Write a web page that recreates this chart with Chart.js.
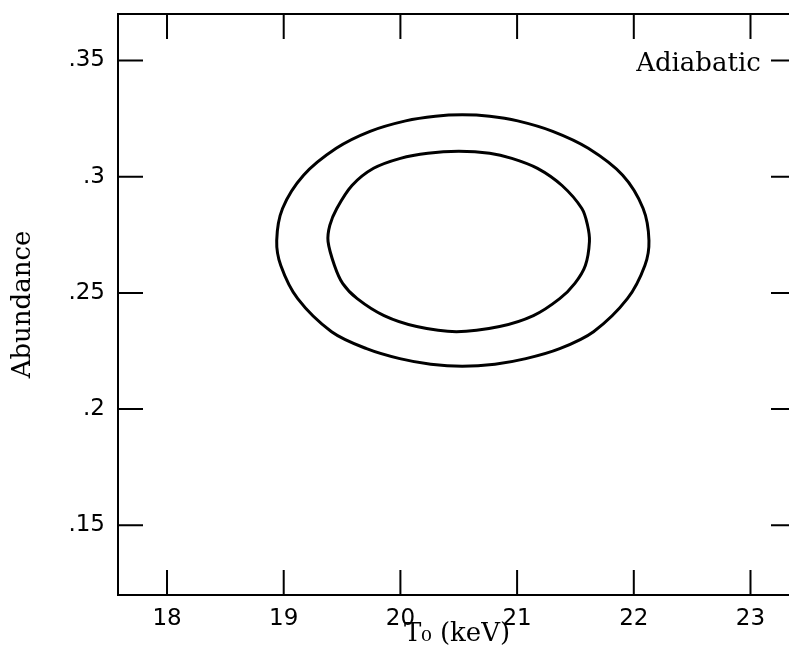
<!DOCTYPE html>
<html>
<head>
<meta charset="utf-8">
<script src="https://cdn.jsdelivr.net/npm/chart.js@4.4.0/dist/chart.umd.min.js"></script>
<style>
  html, body { margin: 0; padding: 0; background: #fff; overflow: hidden; }
  #wrap { width: 820px; height: 657px; position: relative; }
</style>
</head>
<body>
<div id="wrap"><canvas id="contour"></canvas></div>
<script>
// tick values / labels
var xTicks = [18, 19, 20, 21, 22, 23];
var yTicks = [0.15, 0.2, 0.25, 0.3, 0.35];
var yTickLabels = ['.15', '.2', '.25', '.3', '.35'];

// outer contour (T0 in keV, abundance), going round once
var outerT0 = [22.13, 22.08, 21.905, 21.61, 21.305, 21.005, 20.765, 20.53, 20.30, 20.045, 19.74, 19.45, 19.17, 18.99,
  18.94, 18.975, 19.12, 19.41, 19.71, 19.995, 20.26, 20.53, 20.81, 21.075, 21.365, 21.655, 21.945, 22.095];
var outerAbund = [0.2725, 0.2863, 0.3006, 0.3122, 0.3195, 0.3240, 0.3260, 0.3266, 0.3260, 0.3240, 0.3195, 0.3122, 0.3006, 0.2863,
  0.2725, 0.2618, 0.2475, 0.2333, 0.226, 0.2217, 0.2193, 0.2184, 0.2193, 0.2217, 0.226, 0.2333, 0.2475, 0.2618];

// inner contour
var innerT0 = [21.62, 21.604, 21.555, 21.385, 21.175, 20.955, 20.765, 20.50, 20.235, 20.00, 19.77, 19.585, 19.455, 19.395,
  19.38, 19.435, 19.505, 19.63, 19.86, 20.14, 20.48, 20.85, 21.14, 21.365, 21.495, 21.585];
var innerAbund = [0.2721, 0.2790, 0.2863, 0.2962, 0.3036, 0.3079, 0.3101, 0.3109, 0.3101, 0.3079, 0.3036, 0.2962, 0.2863, 0.2790,
  0.2721, 0.2618, 0.2541, 0.2475, 0.2402, 0.2355, 0.2333, 0.2355, 0.2402, 0.2475, 0.2541, 0.2618];

var labelText = 'Adiabatic';
var labelPos = [22.02, 0.3454];

// closed curve: pad with one point on each side so the spline is smooth at the seam,
// the padding segments are then hidden
function closedLoop(xs, ys) {
  var pts = xs.map(function (x, i) { return { x: x, y: ys[i] }; });
  var n = pts.length;
  return [pts[n - 1]].concat(pts, [pts[0], pts[1]]);
}

function loopDataset(name, xs, ys) {
  var n = xs.length;
  return {
    label: name,
    data: closedLoop(xs, ys),
    showLine: true,
    borderColor: '#000',
    borderWidth: 3,
    pointRadius: 0,
    tension: 0.33,
    fill: false,
    segment: {
      borderColor: function (c) {
        return (c.p0DataIndex === 0 || c.p0DataIndex === n + 1) ? 'rgba(0,0,0,0)' : undefined;
      }
    }
  };
}

// frame with inward ticks on all four sides + the label
var framePlugin = {
  id: 'frame',
  afterDraw: function (chart) {
    var ctx = chart.ctx;
    var a = chart.chartArea;
    var xs = chart.scales.x, ys = chart.scales.y;
    ctx.save();
    ctx.strokeStyle = '#000';
    ctx.lineWidth = 2;
    ctx.strokeRect(a.left, a.top, a.right - a.left, a.bottom - a.top);
    var tl = 25;
    ctx.beginPath();
    xTicks.forEach(function (v) {
      var px = xs.getPixelForValue(v);
      ctx.moveTo(px, a.bottom); ctx.lineTo(px, a.bottom - tl);
      ctx.moveTo(px, a.top); ctx.lineTo(px, a.top + tl);
    });
    yTicks.forEach(function (v) {
      var py = ys.getPixelForValue(v);
      ctx.moveTo(a.left, py); ctx.lineTo(a.left + tl, py);
      ctx.moveTo(a.right, py); ctx.lineTo(a.right - tl, py);
    });
    ctx.stroke();

    ctx.fillStyle = '#000';
    ctx.font = '26px "DejaVu Serif"';
    ctx.textAlign = 'left';
    ctx.textBaseline = 'alphabetic';
    ctx.fillText(labelText, xs.getPixelForValue(labelPos[0]), ys.getPixelForValue(labelPos[1]));
    ctx.restore();
  }
};

var ctx = document.getElementById('contour').getContext('2d');
var myChart = new Chart(ctx, {
  type: 'scatter',
  data: {
    datasets: [
      loopDataset('outer', outerT0, outerAbund),
      loopDataset('inner', innerT0, innerAbund)
    ]
  },
  options: {
    responsive: true,
    maintainAspectRatio: false,
    animation: false,
    layout: { padding: { top: 14, right: 24, left: 0, bottom: 0 } },
    plugins: {
      legend: { display: false },
      tooltip: { enabled: false }
    },
    scales: {
      x: {
        type: 'linear',
        min: 17.58,
        max: 23.39,
        grid: { display: false, drawTicks: false },
        border: { display: false },
        afterBuildTicks: function (scale) {
          scale.ticks = xTicks.map(function (v) { return { value: v }; });
        },
        afterFit: function (scale) {
          scale.height = 62;
          scale.paddingLeft = 0;
          scale.paddingRight = 0;
        },
        ticks: {
          color: '#000',
          padding: 10,
          maxRotation: 0,
          font: { family: '"DejaVu Sans"', size: 23 }
        },
        title: {
          display: true,
          text: 'T\u2080 (keV)',
          color: '#000',
          font: { family: '"DejaVu Serif"', size: 26 },
          padding: { top: 0, bottom: 7 }
        }
      },
      y: {
        type: 'linear',
        min: 0.12,
        max: 0.37,
        grid: { display: false, drawTicks: false },
        border: { display: false },
        afterBuildTicks: function (scale) {
          scale.ticks = yTicks.map(function (v) { return { value: v }; });
        },
        afterFit: function (scale) {
          scale.width = 118;
          scale.paddingTop = 0;
          scale.paddingBottom = 0;
        },
        ticks: {
          color: '#000',
          padding: 13,
          font: { family: '"DejaVu Sans"', size: 23 },
          callback: function (value, index) {
            return yTickLabels[index];
          }
        },
        title: {
          display: true,
          text: 'Abundance',
          color: '#000',
          font: { family: '"DejaVu Serif"', size: 26 },
          padding: { top: 8, bottom: 0 }
        }
      }
    }
  },
  plugins: [framePlugin]
});
</script>
</body>
</html>
